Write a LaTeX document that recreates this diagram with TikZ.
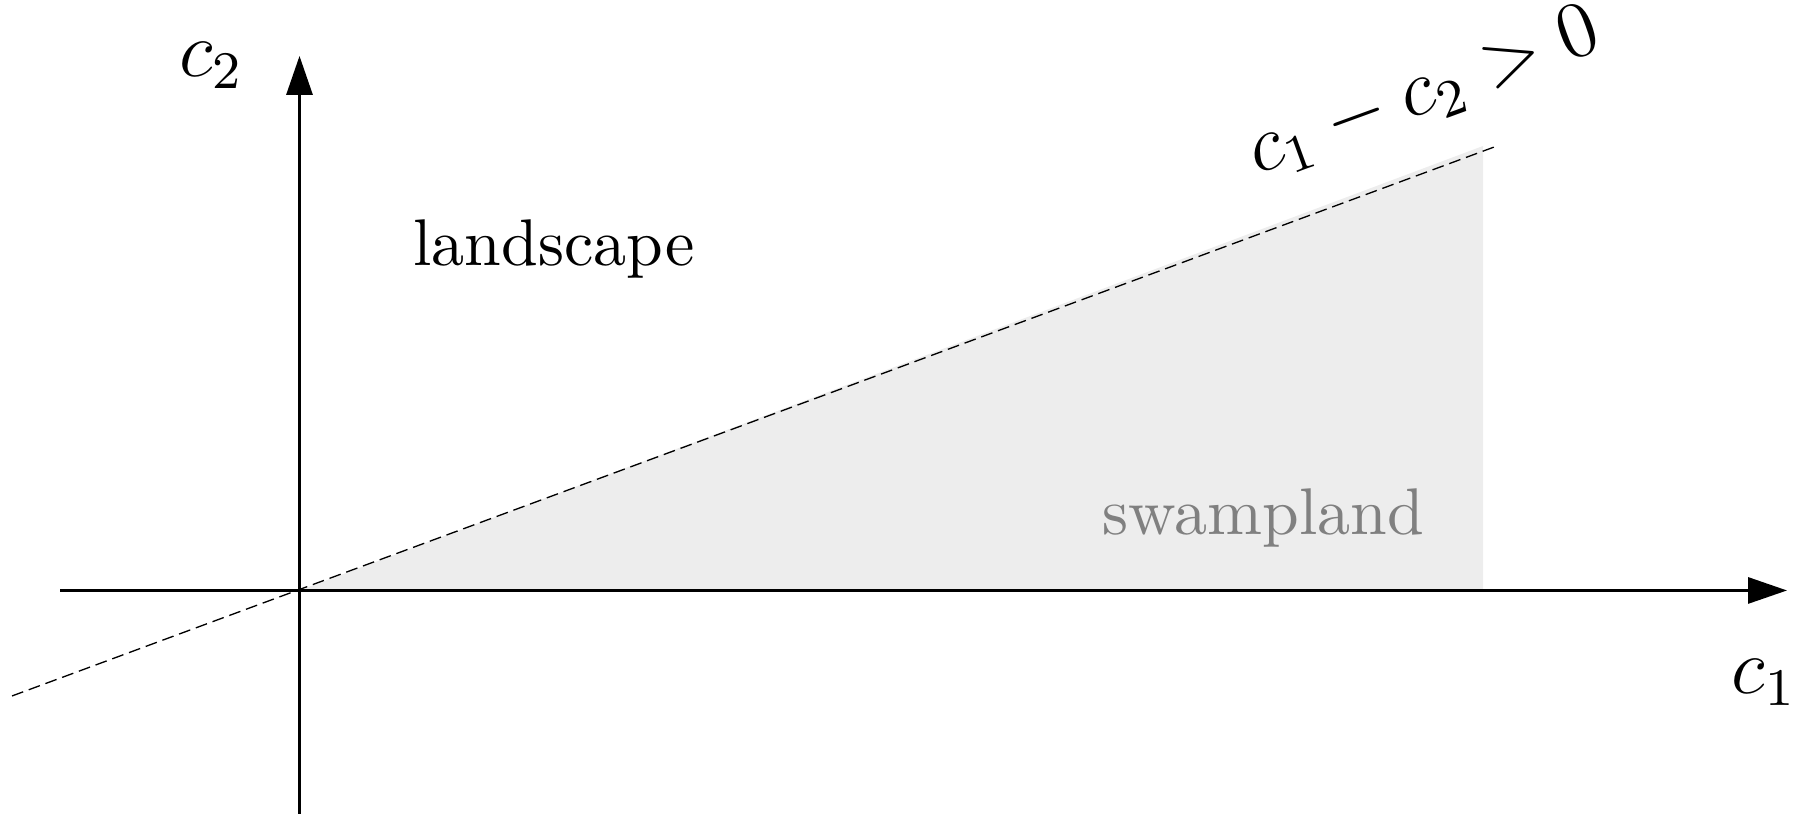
\documentclass[tikz,border=0pt]{standalone}
\usetikzlibrary{arrows.meta}
\begin{document}
\begin{tikzpicture}[x=0.1515pt,y=0.1515pt,
  axis/.style={line width=0.45pt,-{Triangle[length=5.9pt,width=3.94pt]}},
  bound/.style={line width=0.2pt,dash pattern=on 1.8pt off 0.9pt},
  region/.style={fill=black!7,draw=none},
  lbl/.style={inner sep=0pt,anchor=base}]
\useasboundingbox (0,0) rectangle (1800,814);
\coordinate (O) at (299.5,223.5);
\coordinate (xs) at (60,223.5);
\coordinate (xe) at (1787,223.5);
\coordinate (ys) at (299.5,0);
\coordinate (ye) at (299.5,758);
\coordinate (ds) at (12,118);
\coordinate (de) at (1497,668);
\coordinate (sb) at (1483,223.5);
\coordinate (st) at (1483,668);
\fill[region] (O) -- (sb) -- (st) -- cycle;
\draw[bound] (ds) -- (de);
\draw[axis] (xs) -- (xe);
\draw[axis] (ys) -- (ye);
\node[lbl] (land) at (554,548.3) {landscape};
\node[lbl,text=black!50] (swamp) at (1263.5,279) {swampland};
\node[lbl,font=\large] (c2) at (211.5,737) {$c_2$};
\node[lbl,font=\large] (c1) at (1764,120) {$c_1$};
\node[inner sep=0pt,rotate=20,font=\large] (cond) at (1424,721) {$c_1-c_2>0$};
\end{tikzpicture}
\end{document}
